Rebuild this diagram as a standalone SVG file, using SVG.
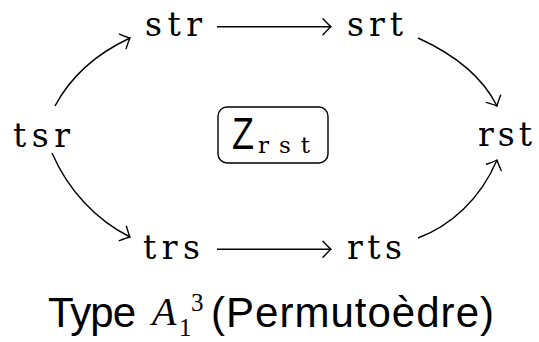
<svg xmlns="http://www.w3.org/2000/svg" width="539" height="342" viewBox="0 0 539 342">
<defs>
<style>
.n{font-family:"DejaVu Serif","Liberation Serif",serif;font-size:33px;fill:#000}
.c{stroke:#000;stroke-width:1.4;fill:none}
.cap{font-family:"Liberation Sans",Arial,sans-serif;font-size:42px;fill:#000}
.m{font-family:"Liberation Serif",serif;font-size:25px;fill:#000}
</style>
<marker id="ah" markerUnits="userSpaceOnUse" markerWidth="20" markerHeight="20" refX="0" refY="0" viewBox="-10 -10 20 20" orient="auto" overflow="visible">
<path d="M-8,-8 Q-2,-1.5 0,0 Q-2,1.5 -8,8" fill="none" stroke="#000" stroke-width="1.4" stroke-linecap="round"/>
</marker>
</defs>
<rect width="539" height="342" fill="#fff"/>
<g id="connectors">
<path class="c" d="M217,26.7 H331" marker-end="url(#ah)"/>
<path class="c" d="M217,249.3 H331" marker-end="url(#ah)"/>
<path class="c" d="M55,106 C72,74 100,52 130,38" marker-end="url(#ah)"/>
<path class="c" d="M418,38 C449,52 481,74 497,106" marker-end="url(#ah)"/>
<path class="c" d="M52,153 C68,190 96,220 130,237" marker-end="url(#ah)"/>
<path class="c" d="M418,238 C450,226 480,200 497,160" marker-end="url(#ah)"/>
</g>
<g id="node-str"><text class="n" x="145" y="36" textLength="57">str</text></g>
<g id="node-srt"><text class="n" x="347" y="36" textLength="56">srt</text></g>
<g id="node-tsr"><text class="n" x="13" y="147" textLength="57">tsr</text></g>
<g id="node-rst"><text class="n" x="478" y="146" textLength="54">rst</text></g>
<g id="node-trs"><text class="n" x="143" y="259" textLength="57">trs</text></g>
<g id="node-rts"><text class="n" x="347" y="259" textLength="55">rts</text></g>
<g id="node-center">
<rect x="218" y="107" width="110" height="56" rx="9" class="c"/>
<text x="232" y="149" style="font-family:'Liberation Sans',sans-serif;font-size:44px" textLength="22" lengthAdjust="spacingAndGlyphs">Z</text>
<text x="258" y="153" style="font-family:'DejaVu Serif','Liberation Serif',serif;font-size:23px" textLength="52">rst</text>
</g>
<g id="caption">
<text class="cap" x="48" y="327" textLength="88">Type</text>
<text x="152" y="325" style="font-family:'Liberation Serif',serif;font-style:italic;font-size:40px">A</text>
<text class="m" x="179" y="336">1</text>
<text class="m" x="191" y="311">3</text>
<text class="cap" x="211" y="327" textLength="283">(Permutoèdre)</text>
</g>
</svg>
